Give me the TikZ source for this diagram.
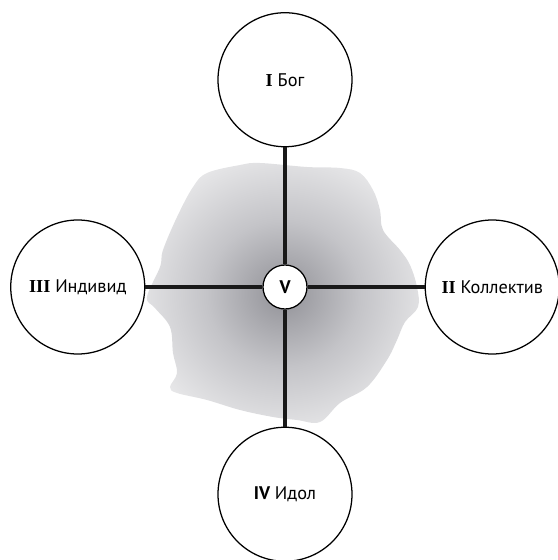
\documentclass[tikz,border=0pt]{standalone}
\usepackage{fontspec}
\setmainfont{PT Sans}
\newfontfamily\romfont{Liberation Serif}
\usetikzlibrary{positioning}
\usepackage{xcolor}

\definecolor{blobinner}{RGB}{145,145,151}
\definecolor{blobmid}{RGB}{196,196,200}
\definecolor{blobouter}{RGB}{240,240,241}
\pgfdeclareradialshading{blobshade}{\pgfpointorigin}{color(0bp)=(blobinner); color(14bp)=(blobmid); color(31bp)=(blobouter); color(50bp)=(blobouter)}

\begin{document}
\begin{tikzpicture}[
  x=0.25mm, y=0.25mm,
  pole/.style={circle, draw=black, line width=0.9pt, fill=white, minimum size=33.5mm,
    inner sep=0pt, font=\fontsize{13}{15}\selectfont},
  hub/.style={circle, draw=black, line width=0.9pt, fill=white, minimum size=11mm,
    inner sep=0pt, font=\fontsize{13}{15}\selectfont\bfseries},
  link/.style={line width=3.5pt, draw=black!90},
  node distance=29.25mm
]
\useasboundingbox (-285,-273) rectangle (273,287);

% Hintergrund
\shade[shading=blobshade] plot[smooth cycle, tension=0.6] coordinates {
  (-25,124) (22,120) (55,119) (75,114) (88,97) (95,77) (98,57) (115,37)
  (125,22) (132,0) (133,-20) (120,-35) (112,-53) (102,-73) (82,-100)
  (55,-116) (35,-135) (12,-133) (-12,-130) (-45,-123) (-78,-113)
  (-108,-106) (-115,-100) (-108,-86) (-112,-66) (-115,-40) (-130,-21)
  (-138,-10) (-125,20) (-122,37) (-108,70) (-92,100) (-78,114) (-45,122)};

% Mitte
\node (centre) [hub] at (0,0) {V};

% Pole
\node (bog) [pole, above=of centre] {{\romfont\bfseries I} Бог};
\node (kollektiv) [pole, right=of centre] {{\romfont\bfseries II} Коллектив};
\node (individ) [pole, left=of centre] {{\romfont\bfseries III} Индивид};
\node (idol) [pole, below=of centre] {{\bfseries IV} Идол};

% Achsen
\draw [link] (bog) -- (centre);
\draw [link] (centre) -- (idol);
\draw [link] (individ) -- (centre);
\draw [link] (centre) -- (kollektiv);

\end{tikzpicture}
\end{document}
